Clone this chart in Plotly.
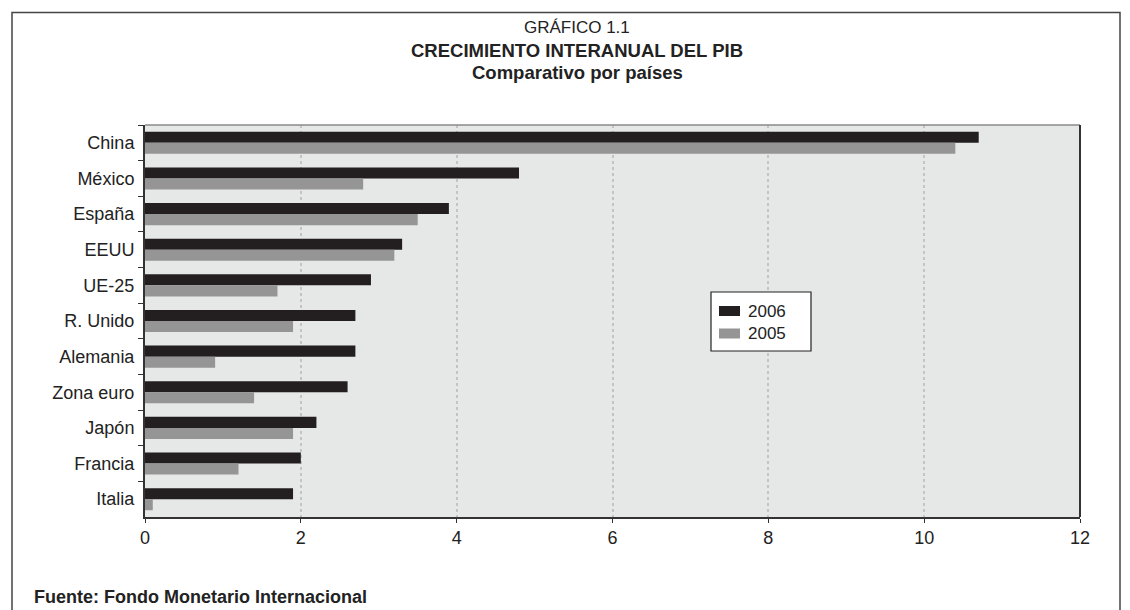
import plotly.graph_objects as go

countries = ["China", "México", "España", "EEUU", "UE-25", "R. Unido",
             "Alemania", "Zona euro", "Japón", "Francia", "Italia"]
values_2006 = [10.7, 4.8, 3.9, 3.3, 2.9, 2.7, 2.7, 2.6, 2.2, 2.0, 1.9]
values_2005 = [10.4, 2.8, 3.5, 3.2, 1.7, 1.9, 0.9, 1.4, 1.9, 1.2, 0.1]
series_names = ["2006", "2005"]
series_colors = ["#231f20", "#959595"]
x_ticks = [0, 2, 4, 6, 8, 10, 12]

FONT = "Liberation Sans, Arial, sans-serif"
W, H = 1130, 610
L, R, T, B = 145, 50, 125, 93

fig = go.Figure()
for name, vals, col in zip(series_names, [values_2006, values_2005], series_colors):
    fig.add_trace(go.Bar(y=countries, x=vals, orientation="h", name=name,
                         marker=dict(color=col, line=dict(width=0)),
                         showlegend=False))

fig.update_layout(
    width=W, height=H,
    margin=dict(l=L, r=R, t=T, b=B),
    paper_bgcolor="white",
    plot_bgcolor="#e6e7e7",
    barmode="group",
    bargap=0.38,
    bargroupgap=0,
    font=dict(family=FONT, size=18, color="#222"),
    showlegend=False,
    xaxis=dict(range=[0, 12], tickvals=x_ticks, ticks="outside", ticklen=4,
               tickcolor="#333", showline=True, linecolor="#333", linewidth=1.5,
               showgrid=True, gridcolor="#c4c4c4", griddash="dot", gridwidth=1.5,
               zeroline=False, tickfont=dict(size=18, color="#222"),
               fixedrange=True),
    yaxis=dict(autorange="reversed", type="category", ticks="outside",
               tickson="boundaries", ticklen=5, tickcolor="#333",
               showline=True, linecolor="#333", linewidth=2,
               showgrid=False, tickfont=dict(size=18, color="#222"),
               ticksuffix=" ", fixedrange=True),
)

pw, ph = W - L - R, H - T - B
def px_x(p):
    return (p - L) / pw
def px_y(p):
    return (H - B - p) / ph

# top and right borders of the plot area
fig.add_shape(type="line", xref="paper", yref="paper", x0=0, x1=1, y0=1, y1=1,
              line=dict(color="#8a8a8a", width=1.5))
fig.add_shape(type="line", xref="paper", yref="paper", x0=1, x1=1, y0=0, y1=1,
              line=dict(color="#333", width=2))

# outer frame of the whole figure
fig.add_shape(type="rect", xref="paper", yref="paper",
              x0=px_x(12), x1=px_x(1120), y0=px_y(12.5), y1=px_y(640),
              line=dict(color="#444", width=1.5), fillcolor="rgba(0,0,0,0)",
              layer="below")

# legend box
fig.add_shape(type="rect", xref="paper", yref="paper",
              x0=px_x(711), x1=px_x(811), y0=px_y(292), y1=px_y(351),
              line=dict(color="#222", width=1.2), fillcolor="white")
for i, (name, col) in enumerate(zip(series_names, series_colors)):
    yc = 311 + i * 22.5
    fig.add_shape(type="rect", xref="paper", yref="paper",
                  x0=px_x(719), x1=px_x(740), y0=px_y(yc - 5), y1=px_y(yc + 5),
                  line=dict(width=0), fillcolor=col)
    fig.add_annotation(text=name, xref="paper", yref="paper", x=px_x(746),
                       y=px_y(yc), xanchor="left", yanchor="middle", showarrow=False,
                       font=dict(size=17, color="#222", family=FONT))

titles = [("GRÁFICO 1.1", 27, False, 17), ("CRECIMIENTO INTERANUAL DEL PIB", 50, True, 18.5),
          ("Comparativo por países", 73, True, 18.5)]
for txt, ypix, bold, fs in titles:
    fig.add_annotation(text=f"<b>{txt}</b>" if bold else txt, xref="paper", yref="paper",
                       x=px_x(577), y=px_y(ypix), xanchor="center", yanchor="middle",
                       showarrow=False, font=dict(size=fs, color="#222", family=FONT))

fig.add_annotation(text="<b>Fuente: Fondo Monetario Internacional</b>", xref="paper",
                   yref="paper", x=px_x(32), y=px_y(597), xanchor="left",
                   yanchor="middle", showarrow=False,
                   font=dict(size=18, color="#222", family=FONT))

fig.write_html("out.html", config={"displayModeBar": False},
               post_script="document.body.style.margin='0';document.body.style.padding='0';")
